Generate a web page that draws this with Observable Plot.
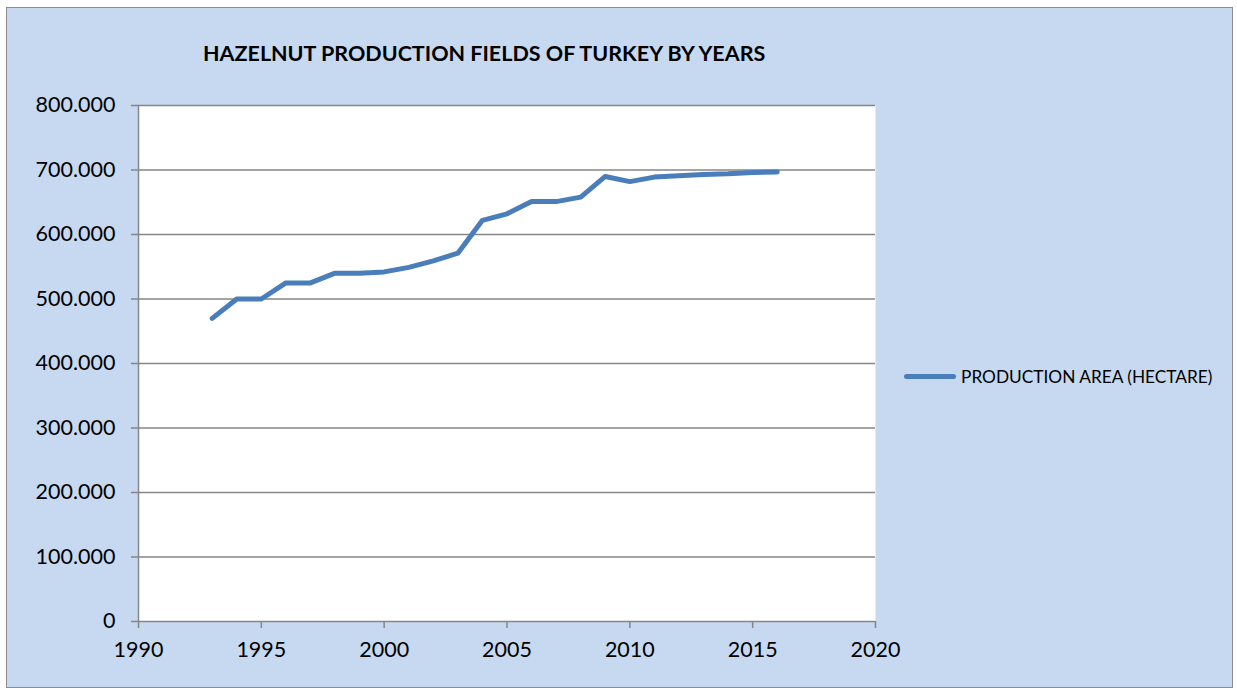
<!DOCTYPE html>
<html><head><meta charset="utf-8">
<script src="https://cdn.jsdelivr.net/npm/d3@7"></script>
<script src="https://cdn.jsdelivr.net/npm/@observablehq/plot@0.6"></script>
<style>
body{margin:0;background:#fff;}
#wrap{position:relative;width:1237px;height:690px;overflow:hidden;font-family:Lato,"Open Sans",sans-serif;}
#bg{position:absolute;left:6px;top:7px;width:1225px;height:679px;background:#C6D9F1;border:1px solid #8c8c8c;}
#title{position:absolute;left:203px;top:40px;font-weight:bold;font-size:21.5px;color:#000;white-space:nowrap;}
#legend{position:absolute;left:904px;top:366px;display:flex;align-items:center;font-size:17.3px;color:#000;white-space:nowrap;}
#legend .sw{width:52px;height:5px;border-radius:3px;background:#4A7EBB;margin-right:5px;}
#chart{position:absolute;left:0;top:0;}
</style></head>
<body>
<div id="wrap">
  <div id="bg"></div>
  <div id="chart"></div>
  <div id="title">HAZELNUT PRODUCTION FIELDS OF TURKEY BY YEARS</div>
  <div id="legend"><div class="sw"></div><span>PRODUCTION AREA (HECTARE)</span></div>
</div>
<script>
const years = [1993,1994,1995,1996,1997,1998,1999,2000,2001,2002,2003,2004,2005,2006,2007,2008,2009,2010,2011,2012,2013,2014,2015,2016];
const areas = [470000,500000,500000,525000,525000,540000,540000,542000,549000,559000,571000,622000,632000,651000,651000,658000,690000,682000,689000,691000,693000,694000,696000,697000];
const xTicks = [1990,1995,2000,2005,2010,2015,2020];
const yTicks = [0,100000,200000,300000,400000,500000,600000,700000,800000];
const seriesName = "PRODUCTION AREA (HECTARE)";

const data = years.map((y,i)=>({year:y, area:areas[i]}));
const fmt = d3.formatLocale({decimal:",", thousands:".", grouping:[3], currency:["",""]}).format(",");

const chart = Plot.plot({
  width:1237, height:690,
  marginLeft:138, marginRight:362, marginTop:105, marginBottom:69,
  style:{background:"transparent", fontFamily:"Lato, 'Open Sans', sans-serif", fontSize:"21.5px", color:"#000", overflow:"visible"},
  x:{domain:[1990,2020]},
  y:{domain:[0,800000]},
  marks:[
    Plot.frame({fill:"white", stroke:null}),
    Plot.ruleY(yTicks,{stroke:"#868686", strokeWidth:1.5}),
    Plot.ruleX([1990],{stroke:"#868686", strokeWidth:1.5}),
    Plot.axisY({ticks:yTicks, tickFormat:fmt, tickSize:7, tickPadding:16, stroke:"#868686", strokeWidth:1.5, fill:"#000", label:null}),
    Plot.axisX({ticks:xTicks, tickFormat:d=>String(d), tickSize:7, tickPadding:13, stroke:"#868686", strokeWidth:1.5, fill:"#000", label:null}),
    Plot.line(data,{x:"year", y:"area", stroke:"#4A7EBB", strokeWidth:5, strokeLinecap:"round", strokeLinejoin:"round"})
  ]
});
document.getElementById("chart").appendChild(chart);
</script>
</body></html>
